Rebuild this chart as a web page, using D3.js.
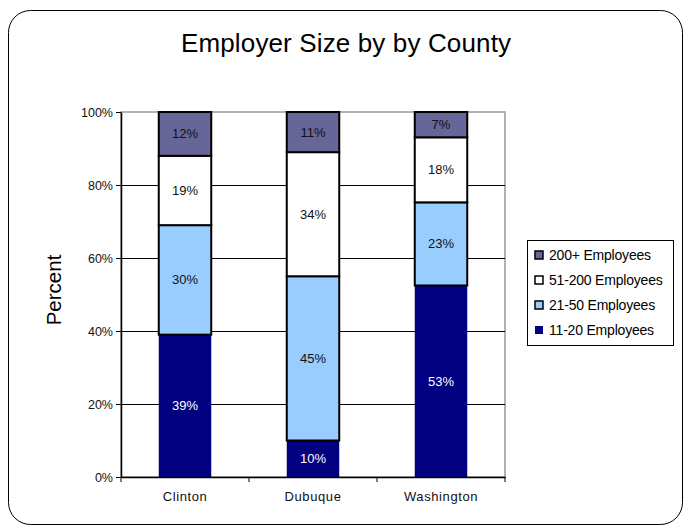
<!DOCTYPE html>
<html>
<head>
<meta charset="utf-8">
<script src="https://cdn.jsdelivr.net/npm/d3@7"></script>
<style>
  html, body { margin: 0; padding: 0; background: #fff; }
  svg { display: block; font-family: "Liberation Sans", Arial, sans-serif; }
</style>
</head>
<body>
<svg id="chart" width="689" height="529"></svg>
<script>
// Counties along the x axis
const counties = ["Clinton", "Dubuque", "Washington"];
// Employer size groups, bottom of the stack first
const groups = ["11-20 Employees", "21-50 Employees", "51-200 Employees", "200+ Employees"];
// Share of employers (%) per county for each size group
const small = [39, 10, 53];
const midSmall = [30, 45, 23];
const midLarge = [19, 34, 18];
const large = [12, 11, 7];
const yTicks = [0, 0.2, 0.4, 0.6, 0.8, 1.0];
const colors = ["#000080", "#99CCFF", "#FFFFFF", "#666699"];

const rows = counties.map((c, i) => ({
  county: c,
  "11-20 Employees": small[i],
  "21-50 Employees": midSmall[i],
  "51-200 Employees": midLarge[i],
  "200+ Employees": large[i]
}));

const FONT = "\"Liberation Sans\", Arial, sans-serif";
const svg = d3.select("#chart");

// rounded frame around the whole chart
svg.append("rect")
  .attr("x", 8.5).attr("y", 10.5).attr("width", 674).attr("height", 514)
  .attr("rx", 22).attr("ry", 22)
  .attr("fill", "#fff").attr("stroke", "#000").attr("stroke-width", 1);

svg.append("text")
  .attr("x", 346).attr("y", 52)
  .attr("text-anchor", "middle")
  .attr("font-size", 26)
  .attr("textLength", 330)
  .text("Employer Size by by County");

const plot = { left: 121, right: 505, top: 112, bottom: 477 };

const x = d3.scaleBand().domain(counties).range([plot.left, plot.right]).paddingInner(0.59).paddingOuter(0.295);
const y = d3.scaleLinear().domain([0, 1]).range([plot.bottom, plot.top]);

const stack = d3.stack().keys(groups).offset(d3.stackOffsetExpand);
const series = stack(rows);

// plot area border
svg.append("rect")
  .attr("x", plot.left).attr("y", plot.top)
  .attr("width", plot.right - plot.left).attr("height", plot.bottom - plot.top)
  .attr("fill", "#fff").attr("stroke", "#999").attr("stroke-width", 1.5);

// horizontal gridlines
svg.append("g").selectAll("line")
  .data(yTicks.filter(t => t > 0 && t < 1))
  .join("line")
  .attr("x1", plot.left).attr("x2", plot.right)
  .attr("y1", d => Math.round(y(d)) + 0.5).attr("y2", d => Math.round(y(d)) + 0.5)
  .attr("stroke", "#000").attr("stroke-width", 1);

// stacked bars
const layer = svg.append("g").selectAll("g")
  .data(series)
  .join("g")
  .attr("fill", (d, i) => colors[i]);

layer.selectAll("rect")
  .data(d => d.map(p => Object.assign(p, { key: d.key })))
  .join("rect")
  .attr("x", d => x(d.data.county))
  .attr("width", x.bandwidth())
  .attr("y", d => y(d[1]))
  .attr("height", d => y(d[0]) - y(d[1]))
  .attr("stroke", d => d.key === groups[0] ? "none" : "#000")
  .attr("stroke-width", 2);

// value labels inside segments
layer.selectAll("text")
  .data(d => d.map(p => p))
  .join("text")
  .attr("x", d => x(d.data.county) + x.bandwidth() / 2)
  .attr("y", d => (y(d[0]) + y(d[1])) / 2 + 4.5)
  .attr("text-anchor", "middle")
  .attr("font-size", 13)
  .attr("fill", d => d.key === groups[0] ? "#fff" : "#111")
  .text(d => d.data[d.key] + "%");

// y axis
const yAxis = d3.axisLeft(y).tickValues(yTicks).tickFormat(d3.format(".0%")).tickSize(5).tickSizeOuter(0);
const gy = svg.append("g").attr("transform", `translate(${plot.left},0)`).call(yAxis);
gy.select(".domain").attr("stroke", "#000").attr("stroke-width", 1.5);
gy.selectAll(".tick line").attr("stroke", "#000");
gy.selectAll(".tick text").attr("font-size", 12.5).attr("fill", "#111")
  .attr("font-family", FONT).attr("dy", "0.35em");

// x axis
const xAxis = d3.axisBottom(x).tickSize(0).tickPadding(15);
const gx = svg.append("g").attr("transform", `translate(0,${plot.bottom})`).call(xAxis);
gx.select(".domain").attr("stroke", "#000").attr("stroke-width", 1.5);
gx.selectAll(".tick text").attr("font-size", 13).attr("fill", "#111")
  .attr("letter-spacing", "0.6px")
  .attr("font-family", FONT);
// tick marks between categories
const bounds = [plot.left].concat(counties.map(c => x(c) + x.bandwidth() + x.step() * x.paddingInner() / 2));
gx.selectAll(".sep").data(bounds).join("line")
  .attr("class", "sep")
  .attr("x1", d => d).attr("x2", d => d)
  .attr("y1", 0).attr("y2", 5)
  .attr("stroke", "#000");

// y axis title
svg.append("text")
  .attr("transform", "translate(61,290) rotate(-90)")
  .attr("text-anchor", "middle")
  .attr("font-size", 20.5)
  .text("Percent");

// legend, top entry first
const legend = svg.append("g");
legend.append("rect")
  .attr("x", 527.5).attr("y", 240.5).attr("width", 146).attr("height", 105)
  .attr("fill", "#fff").attr("stroke", "#000");
const order = groups.slice().reverse();
const item = legend.selectAll("g.item").data(order).join("g")
  .attr("class", "item")
  .attr("transform", (d, i) => `translate(535,${255 + i * 25})`);
item.append("rect")
  .attr("x", 0).attr("y", -4).attr("width", 8).attr("height", 8)
  .attr("fill", d => colors[groups.indexOf(d)])
  .attr("stroke", d => d === groups[0] ? "none" : "#000")
  .attr("stroke-width", 1.5);
item.append("text")
  .attr("x", 14).attr("y", 5)
  .attr("font-size", 14)
  .attr("letter-spacing", "-0.2px")
  .text(d => d);
</script>
</body>
</html>
